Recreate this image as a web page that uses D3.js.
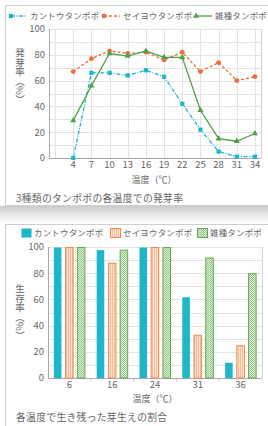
<!DOCTYPE html>
<html>
<head>
<meta charset="utf-8">
<script src="https://cdn.jsdelivr.net/npm/d3@7"></script>
<style>
  html, body { margin: 0; padding: 0; background: #fff; }
  svg text { font-family: "Noto Sans CJK JP", "Noto Sans", sans-serif; fill: #666; }
</style>
</head>
<body>
<svg id="chart" width="268" height="426"></svg>
<script>
// data ===========================================================
const seriesNames = ["カントウタンポポ", "セイヨウタンポポ", "雑種タンポポ"];

// germination rate (%) by temperature
const germTemps = [4, 7, 10, 13, 16, 19, 22, 25, 28, 31, 34];
const germKanto = [0, 66, 66, 64, 68, 63, 42, 22, 5, 1, 1];
const germSeiyo = [67, 77, 83, 81, 82, 76, 82, 67, 74, 60, 63];
const germZasshu = [29, 56, 81, 79, 83, 78, 78, 37, 15, 13, 19];
const germYTicks = [0, 20, 40, 60, 80, 100];

// survival rate (%) by temperature
const survTemps = ["6", "16", "24", "31", "36"];
const survKanto = [100, 98, 100, 62, 12];
const survSeiyo = [100, 88, 100, 33, 25];
const survZasshu = [100, 98, 100, 92, 80];

const topTitle = "3種類のタンポポの各温度での発芽率";
const bottomTitle = "各温度で生き残った芽生えの割合";

// colours
const cyan = "#1fb6ca", orange = "#ec6d3e", green = "#4f9f46";

const svg = d3.select("#chart");
const defs = svg.append("defs");

// shadow under top panel
let grad = defs.append("linearGradient").attr("id", "shade")
  .attr("x1", 0).attr("y1", 0).attr("x2", 0).attr("y2", 1);
grad.append("stop").attr("offset", "0").attr("stop-color", "#cbcbcb");
grad.append("stop").attr("offset", "1").attr("stop-color", "#ffffff");

// stripe pattern (seiyo)
let stripe = defs.append("pattern").attr("id", "stripe")
  .attr("patternUnits", "userSpaceOnUse").attr("width", 2).attr("height", 4);
stripe.append("rect").attr("width", 2).attr("height", 4).attr("fill", "#fde4d2");
stripe.append("rect").attr("width", 0.8).attr("height", 4).attr("fill", "#f7b48a");

// checker pattern (zasshu)
let check = defs.append("pattern").attr("id", "check")
  .attr("patternUnits", "userSpaceOnUse").attr("width", 2).attr("height", 2);
check.append("rect").attr("width", 2).attr("height", 2).attr("fill", "#e6f2df");
check.append("rect").attr("width", 1).attr("height", 1).attr("fill", "#8fc483");
check.append("rect").attr("x", 1).attr("y", 1).attr("width", 1).attr("height", 1).attr("fill", "#8fc483");

// panels ===========================================================
svg.append("rect").attr("x", 0).attr("y", 206).attr("width", 268).attr("height", 17)
  .attr("fill", "url(#shade)");
svg.append("rect").attr("x", 5.5).attr("y", 5.5).attr("width", 275).attr("height", 200)
  .attr("fill", "#fff").attr("stroke", "#cfcfcf");
svg.append("rect").attr("x", 5.5).attr("y", 224.5).attr("width", 275).attr("height", 220)
  .attr("fill", "#fff").attr("stroke", "#cfcfcf");

function gridAndFrame(g, x0, x1, y, vx) {
  g.selectAll(".hg").data(d3.range(0, 101, 10)).enter().append("line")
    .attr("x1", x0).attr("x2", x1)
    .attr("y1", d => Math.round(y(d)) + 0.5).attr("y2", d => Math.round(y(d)) + 0.5)
    .attr("stroke", "#e3e3e3");
  if (vx) {
    g.selectAll(".vg").data(vx.vals).enter().append("line")
      .attr("x1", d => Math.round(vx.scale(d)) + 0.5).attr("x2", d => Math.round(vx.scale(d)) + 0.5)
      .attr("y1", y(0)).attr("y2", y(100)).attr("stroke", "#e3e3e3");
  }
  g.append("line").attr("x1", x1 + 0.5).attr("x2", x1 + 0.5).attr("y1", y(0)).attr("y2", y(100))
    .attr("stroke", "#d6d6d6");
  g.append("line").attr("x1", x0 + 0.5).attr("x2", x0 + 0.5).attr("y1", y(0)).attr("y2", y(100))
    .attr("stroke", "#a8a8a8");
  g.append("line").attr("x1", x0).attr("x2", x1).attr("y1", Math.round(y(0)) + 0.5).attr("y2", Math.round(y(0)) + 0.5)
    .attr("stroke", "#a8a8a8");
}

function yLabels(g, x0, y) {
  g.selectAll(".yl").data(germYTicks).enter().append("text")
    .attr("x", x0 - 4).attr("y", d => y(d)).attr("dy", "0.35em")
    .attr("text-anchor", "end").attr("font-size", "9.5px").text(d => d);
}

function yTitle(label, cx, y0) {
  svg.append("text").attr("x", cx).attr("y", y0)
    .style("writing-mode", "vertical-rl")
    .attr("font-size", "9.5px").attr("fill", "#666").text(label);
}

// top chart: germination ===========================================
const x1 = d3.scaleLinear().domain([0, 35]).range([49, 261]);
const y1 = d3.scaleLinear().domain([0, 100]).range([158, 29]);
const gTop = svg.append("g");
gridAndFrame(gTop, 49, 261, y1, { scale: x1, vals: d3.range(1, 35, 3) });
yLabels(gTop, 49, y1);
gTop.selectAll(".xl").data(germTemps).enter().append("text")
  .attr("x", d => x1(d)).attr("y", 168).attr("text-anchor", "middle")
  .attr("font-size", "9.5px").text(d => d);
gTop.append("text").attr("x", 154).attr("y", 183).attr("text-anchor", "middle")
  .attr("font-size", "9px").text("温度（℃）");
gTop.append("text").attr("x", 16).attr("y", 202).attr("font-size", "9.8px")
  .attr("letter-spacing", "0.3px").attr("fill", "#555").text(topTitle);
yTitle("発芽率（%）", 20, 48);

const lineSeries = [
  { name: seriesNames[0], vals: germKanto, color: cyan, dash: "4,1.5,1,1.5", sym: d3.symbolSquare, size: 18 },
  { name: seriesNames[1], vals: germSeiyo, color: orange, dash: "3,2", sym: d3.symbolCircle, size: 18 },
  { name: seriesNames[2], vals: germZasshu, color: green, dash: null, sym: d3.symbolTriangle, size: 16 }
];
const line = d3.line().x((d, i) => x1(germTemps[i])).y(d => y1(d));
lineSeries.forEach(s => {
  gTop.append("path").attr("d", line(s.vals)).attr("fill", "none")
    .attr("stroke", s.color).attr("stroke-width", 1.3)
    .attr("stroke-dasharray", s.dash);
  gTop.selectAll(null).data(s.vals).enter().append("path")
    .attr("d", d3.symbol(s.sym, s.size))
    .attr("transform", (d, i) => "translate(" + x1(germTemps[i]) + "," + y1(d) + ")")
    .attr("fill", s.color);
});

// top legend
const legX1 = [11, 104, 196];
lineSeries.forEach((s, i) => {
  const lg = gTop.append("g").attr("transform", "translate(" + legX1[i] + ",16)");
  lg.append("line").attr("x1", 0).attr("x2", 16).attr("y1", 0).attr("y2", 0)
    .attr("stroke", s.color).attr("stroke-width", 1.3).attr("stroke-dasharray", s.dash);
  lg.append("path").attr("d", d3.symbol(s.sym, s.size)).attr("fill", s.color);
  lg.append("text").attr("x", 19).attr("dy", "0.35em").attr("font-size", "8.4px")
    .attr("letter-spacing", "0.3px").text(s.name);
});

// bottom chart: survival ==========================================
const x2 = d3.scaleBand().domain(survTemps).range([48, 262]);
const y2 = d3.scaleLinear().domain([0, 100]).range([378, 247]);
const gBot = svg.append("g");
gridAndFrame(gBot, 48, 262, y2, null);
yLabels(gBot, 48, y2);
// small ticks between groups
gBot.selectAll(".tk").data(survTemps.slice(1)).enter().append("line")
  .attr("x1", d => x2(d)).attr("x2", d => x2(d)).attr("y1", 379).attr("y2", 382)
  .attr("stroke", "#ccc");
gBot.selectAll(".xl").data(survTemps).enter().append("text")
  .attr("x", d => x2(d) + x2.bandwidth() / 2).attr("y", 388).attr("text-anchor", "middle")
  .attr("font-size", "9.5px").text(d => d);
gBot.append("text").attr("x", 155).attr("y", 402).attr("text-anchor", "middle")
  .attr("font-size", "9px").text("温度（℃）");
gBot.append("text").attr("x", 16).attr("y", 421).attr("font-size", "9.8px")
  .attr("letter-spacing", "0.3px").attr("fill", "#555").text(bottomTitle);
yTitle("生存率（%）", 20, 284);

const barSeries = [
  { name: seriesNames[0], vals: survKanto, fill: cyan, stroke: "none" },
  { name: seriesNames[1], vals: survSeiyo, fill: "url(#stripe)", stroke: "#f28a4c" },
  { name: seriesNames[2], vals: survZasshu, fill: "url(#check)", stroke: "#62aa55" }
];
const inner = d3.scaleBand().domain(seriesNames).range([0, x2.bandwidth()])
  .paddingInner(0.27).paddingOuter(0.46);
barSeries.forEach(s => {
  gBot.selectAll(null).data(s.vals).enter().append("rect")
    .attr("x", (d, i) => x2(survTemps[i]) + inner(s.name) + 0.5)
    .attr("y", d => y2(d) + 0.5)
    .attr("width", inner.bandwidth() - 1)
    .attr("height", d => y2(0) - y2(d) - 0.5)
    .attr("fill", s.fill).attr("stroke", s.stroke);
});

// bottom legend
const legX2 = [21, 110, 197];
barSeries.forEach((s, i) => {
  const lg = gBot.append("g").attr("transform", "translate(" + legX2[i] + ",233)");
  lg.append("rect").attr("x", 0.5).attr("y", -4.5).attr("width", 10).attr("height", 9)
    .attr("fill", s.fill).attr("stroke", s.stroke);
  lg.append("text").attr("x", 13).attr("dy", "0.35em").attr("font-size", "8.4px")
    .attr("letter-spacing", "0.3px").text(s.name);
});
</script>
</body>
</html>
